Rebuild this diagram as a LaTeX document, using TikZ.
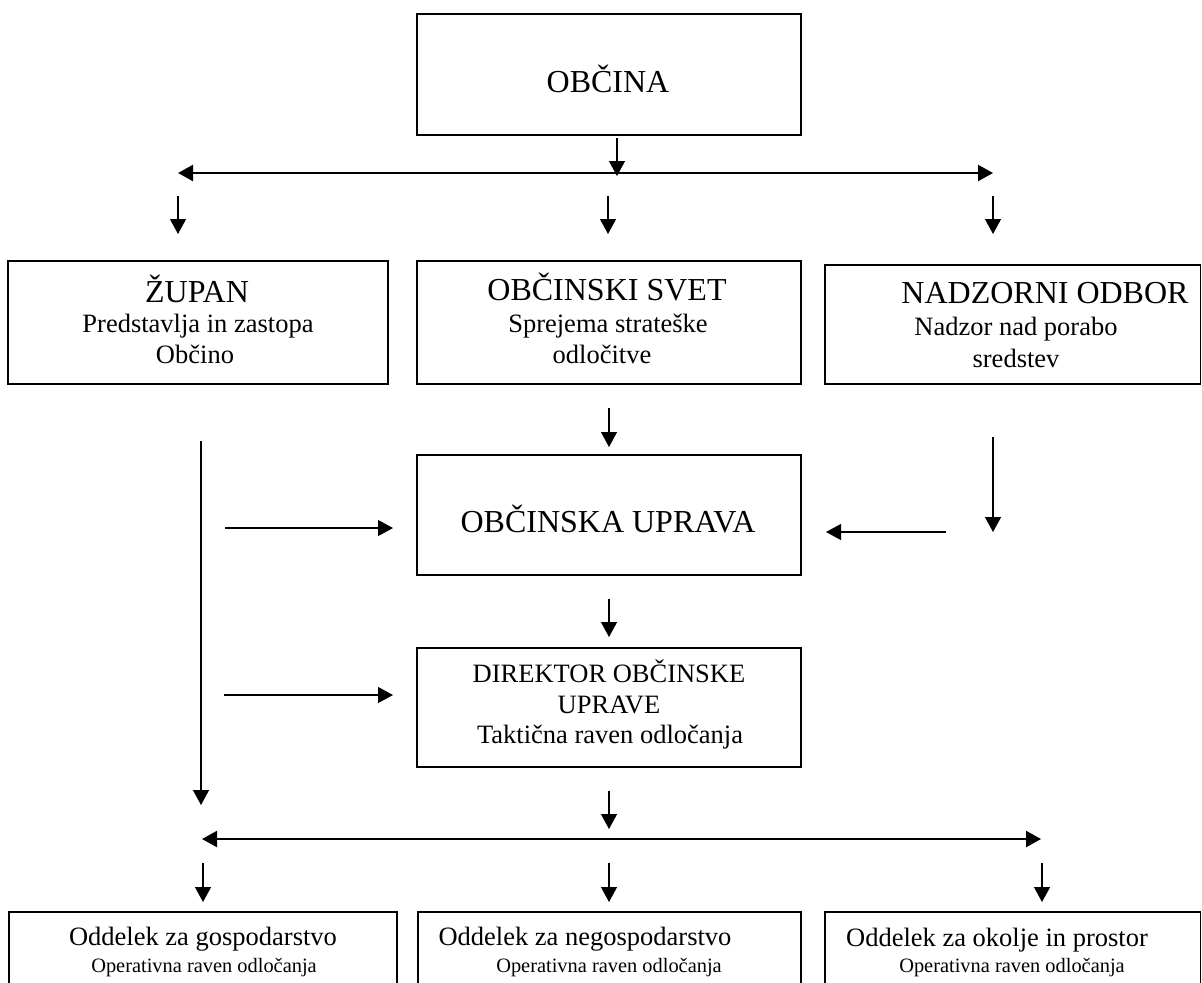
\documentclass[tikz,border=0pt]{standalone}
\usepackage{fontspec}
\setmainfont{Liberation Serif}
\usetikzlibrary{arrows.meta,fit}
\begin{document}
\begin{tikzpicture}[x=0.5pt,y=-0.5pt,
  box/.style={draw,line width=0.7pt,inner sep=0pt},
  big/.style={anchor=base,inner sep=0pt,font=\fontsize{16}{19}\selectfont},
  mid/.style={anchor=base,inner sep=0pt,font=\fontsize{13.25}{16}\selectfont},
  small/.style={anchor=base,inner sep=0pt,font=\fontsize{10.2}{12}\selectfont},
  arr/.style={line width=0.6pt,-{Triangle[length=7.5pt,width=8pt]}},
  darr/.style={line width=1.1pt,{Triangle[length=7.5pt,width=8pt]}-{Triangle[length=7.5pt,width=8pt]}}]
\useasboundingbox (0,0) rectangle (1202,982);
\clip (0,0) rectangle (1202,982);

% boxes
\node[box,fit={(417,14) (801,135)}] (obcina) {};
\node[box,fit={(8,261) (388,384)}] (zupan) {};
\node[box,fit={(417,261) (801,384)}] (svet) {};
\node[box,fit={(825,265) (1200.5,384)}] (nadzor) {};
\node[box,fit={(417,455) (801,575)}] (uprava) {};
\node[box,fit={(417,648) (801,767)}] (direktor) {};
\node[box,fit={(9,912) (397,1010)}] (odd1) {};
\node[box,fit={(418,912) (801,1010)}] (odd2) {};
\node[box,fit={(825,912) (1200.5,1010)}] (odd3) {};

% texts
\node[big] (tobcina) at (608,92) {OBČINA};

\node[big] (tzupan) at (197,302) {ŽUPAN};
\node[mid] (tzupan2) at (198,332) {Predstavlja in zastopa};
\node[mid] (tzupan3) at (195,363) {Občino};

\node[big] (tsvet) at (607,300) {OBČINSKI SVET};
\node[mid] (tsvet2) at (608,332) {Sprejema strateške};
\node[mid] (tsvet3) at (602,363) {odločitve};

\node[big] (tnad) at (1045,303) {NADZORNI ODBOR};
\node[mid] (tnad2) at (1016,335) {Nadzor nad porabo};
\node[mid] (tnad3) at (1016,367) {sredstev};

\node[big] (tupr) at (608,532) {OBČINSKA UPRAVA};

\node[mid] (tdir1) at (609,682) {DIREKTOR OBČINSKE};
\node[mid] (tdir2) at (609,713) {UPRAVE};
\node[mid] (tdir3) at (610,743) {Taktična raven odločanja};

\node[mid] (to1a) at (203,945) {Oddelek za gospodarstvo};
\node[small] (to1b) at (204,972) {Operativna raven odločanja};
\node[mid] (to2a) at (585,945) {Oddelek za negospodarstvo};
\node[small] (to2b) at (609,972) {Operativna raven odločanja};
\node[mid] (to3a) at (997,946) {Oddelek za okolje in prostor};
\node[small] (to3b) at (1012,972) {Operativna raven odločanja};

% connector end points
\coordinate (a1s) at (617,138);  \coordinate (a1e) at (617,176);
\coordinate (h1l) at (178,173);  \coordinate (h1r) at (993,173);
\coordinate (d1s) at (178,196);  \coordinate (d1e) at (178,234);
\coordinate (d2s) at (608,196);  \coordinate (d2e) at (608,234);
\coordinate (d3s) at (993,196);  \coordinate (d3e) at (993,234);
\coordinate (s1s) at (609,408);  \coordinate (s1e) at (609,447);
\coordinate (zls) at (201,441);  \coordinate (zle) at (201,805);
\coordinate (l1s) at (225,528);  \coordinate (l1e) at (393,528);
\coordinate (l2s) at (224,695);  \coordinate (l2e) at (393,695);
\coordinate (r1s) at (946,532);  \coordinate (r1e) at (826,532);
\coordinate (rvs) at (993,437);  \coordinate (rve) at (993,532);
\coordinate (u1s) at (609,599);  \coordinate (u1e) at (609,637);
\coordinate (k1s) at (609,791);  \coordinate (k1e) at (609,829);
\coordinate (h2l) at (202,839);  \coordinate (h2r) at (1041,839);
\coordinate (b1s) at (203,863);  \coordinate (b1e) at (203,902);
\coordinate (b2s) at (609,863);  \coordinate (b2e) at (609,902);
\coordinate (b3s) at (1042,863); \coordinate (b3e) at (1042,902);

% connectors
\draw[darr] (h1l) -- (h1r);
\draw[arr] (a1s) -- (a1e);
\draw[arr] (d1s) -- (d1e);
\draw[arr] (d2s) -- (d2e);
\draw[arr] (d3s) -- (d3e);
\draw[arr] (s1s) -- (s1e);
\draw[arr] (zls) -- (zle);
\draw[arr] (l1s) -- (l1e);
\draw[arr] (l2s) -- (l2e);
\draw[arr] (r1s) -- (r1e);
\draw[arr] (rvs) -- (rve);
\draw[arr] (u1s) -- (u1e);
\draw[darr] (h2l) -- (h2r);
\draw[arr] (k1s) -- (k1e);
\draw[arr] (b1s) -- (b1e);
\draw[arr] (b2s) -- (b2e);
\draw[arr] (b3s) -- (b3e);
\end{tikzpicture}
\end{document}
